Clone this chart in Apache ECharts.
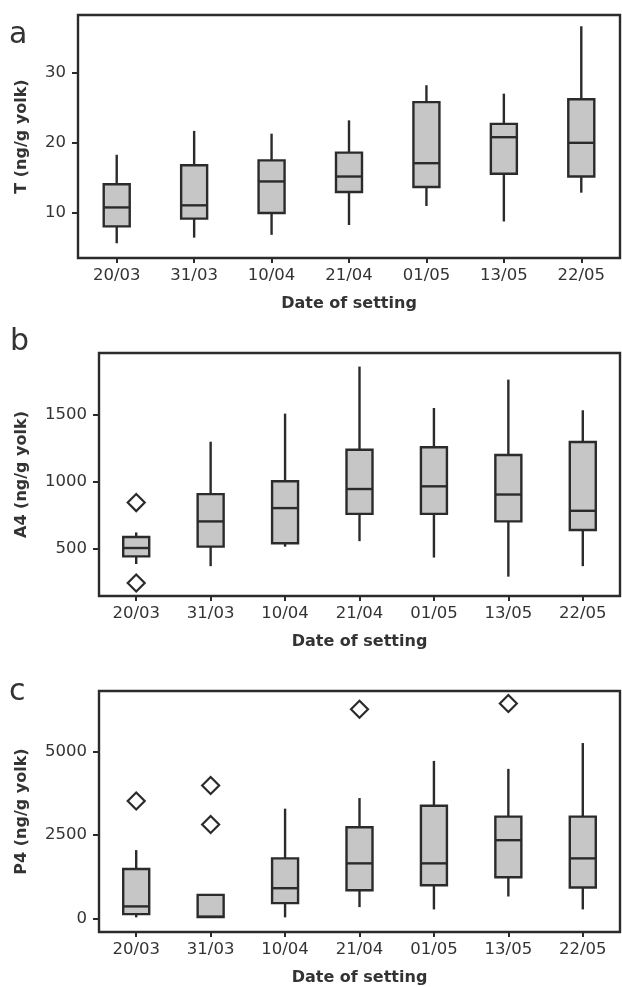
<!DOCTYPE html>
<html>
<head>
<meta charset="utf-8">
<script src="https://cdn.jsdelivr.net/npm/echarts@6/dist/echarts.min.js"></script>
<style>
  html, body { margin: 0; padding: 0; background: #fff; }
  #chart { width: 622px; height: 987px; }
</style>
</head>
<body>
<div id="chart"></div>
<script>
// dates of setting
var categories = ['20/03', '31/03', '10/04', '21/04', '01/05', '13/05', '22/05']

// [min, Q1, median, Q3, max] per date
var tBox = [
  [5.7, 8.1, 10.8, 14.1, 18.3],
  [6.5, 9.2, 11.1, 16.8, 21.7],
  [6.9, 10.0, 14.5, 17.5, 21.3],
  [8.3, 13.0, 15.2, 18.6, 23.2],
  [11.0, 13.7, 17.1, 25.8, 28.2],
  [8.8, 15.6, 20.8, 22.7, 27.0],
  [12.9, 15.2, 20.0, 26.2, 36.6]
]
var a4Box = [
  [386, 443, 505, 587, 621],
  [370, 515, 703, 906, 1296],
  [515, 540, 802, 1002, 1505],
  [556, 759, 944, 1236, 1855],
  [434, 759, 964, 1255, 1547],
  [292, 703, 903, 1197, 1758],
  [370, 639, 782, 1294, 1530]
]
var p4Box = [
  [50, 148, 377, 1492, 2055],
  [59, 59, 70, 721, 721],
  [50, 474, 919, 1808, 3290],
  [356, 860, 1660, 2737, 3606],
  [287, 1008, 1660, 3379, 4713],
  [672, 1245, 2351, 3053, 4476],
  [287, 939, 1808, 3053, 5246]
]

// outliers: [category index, value]
var a4Outliers = [[0, 843], [0, 245]]
var p4Outliers = [[0, 3518], [1, 3982], [1, 2816], [3, 6255], [5, 6423]]

// tick labels
var tTicks = [10, 20, 30]
var a4Ticks = [500, 1000, 1500]
var p4Ticks = [0, 2500, 5000]

var ink = '#2b2b2b'
var textColor = '#333'
var fontFamily = 'DejaVu Sans'

function renderBox (params, api) {
  var idx = api.value(0)
  var low = api.coord([idx, api.value(1)])
  var q1 = api.coord([idx, api.value(2)])
  var med = api.coord([idx, api.value(3)])
  var q3 = api.coord([idx, api.value(4)])
  var high = api.coord([idx, api.value(5)])
  var cx = low[0]
  var half = 13
  var line = { stroke: ink, lineWidth: 2.4 }
  return {
    type: 'group',
    children: [
      { type: 'line', shape: { x1: cx, y1: high[1], x2: cx, y2: q3[1] }, style: line },
      { type: 'line', shape: { x1: cx, y1: q1[1], x2: cx, y2: low[1] }, style: line },
      {
        type: 'rect',
        shape: { x: cx - half, y: q3[1], width: half * 2, height: q1[1] - q3[1] },
        style: { fill: '#c6c6c6', stroke: ink, lineWidth: 2.4 }
      },
      { type: 'line', shape: { x1: cx - half, y1: med[1], x2: cx + half, y2: med[1] }, style: line }
    ]
  }
}

function xAxisFor (gridIndex) {
  return {
    type: 'category',
    gridIndex: gridIndex,
    data: categories,
    name: 'Date of setting',
    nameLocation: 'middle',
    nameGap: 38,
    nameTextStyle: { fontFamily: fontFamily, fontWeight: 'bold', fontSize: 16, color: textColor },
    axisLine: { show: false, onZero: false },
    axisTick: { show: true, alignWithLabel: true, length: 5, lineStyle: { color: ink, width: 2 } },
    axisLabel: { fontFamily: fontFamily, fontSize: 16.5, color: textColor, margin: 9 },
    splitLine: { show: false }
  }
}

function yAxisFor (gridIndex, name, min, max, ticks, gap) {
  return {
    type: 'value',
    gridIndex: gridIndex,
    min: min,
    max: max,
    name: name,
    nameLocation: 'middle',
    nameRotate: 90,
    nameGap: gap,
    nameTextStyle: { fontFamily: fontFamily, fontWeight: 'bold', fontSize: 16, color: textColor },
    axisLine: { show: false, onZero: false },
    axisTick: { show: true, length: 6, customValues: ticks, lineStyle: { color: ink, width: 2 } },
    axisLabel: {
      fontFamily: fontFamily,
      fontSize: 16.5,
      color: textColor,
      margin: 12,
      customValues: ticks,
      formatter: function (v) { return String(v) }
    },
    splitLine: { show: false }
  }
}

function boxSeries (i, data) {
  return {
    type: 'custom',
    xAxisIndex: i,
    yAxisIndex: i,
    renderItem: renderBox,
    encode: { x: 0, y: [1, 2, 3, 4, 5] },
    data: data.map(function (b, k) { return [k].concat(b) }),
    z: 3
  }
}

function outlierSeries (i, data) {
  return {
    type: 'scatter',
    xAxisIndex: i,
    yAxisIndex: i,
    symbol: 'diamond',
    symbolSize: [17, 17],
    itemStyle: { color: '#fff', borderColor: ink, borderWidth: 2.2, opacity: 1 },
    data: data,
    z: 4
  }
}

var gridStyle = { show: true, borderColor: ink, borderWidth: 2.4, backgroundColor: 'transparent' }

var chart = echarts.init(document.getElementById('chart'))
chart.setOption({
  backgroundColor: '#fff',
  animation: false,
  grid: [
    Object.assign({ left: 78, right: 2, top: 15, height: 243 }, gridStyle),
    Object.assign({ left: 99, right: 2, top: 353, height: 243 }, gridStyle),
    Object.assign({ left: 99, right: 2, top: 691, height: 242 }, gridStyle)
  ],
  xAxis: [xAxisFor(0), xAxisFor(1), xAxisFor(2)],
  yAxis: [
    yAxisFor(0, 'T (ng/g yolk)', 3.6, 38.2, tTicks, 48),
    yAxisFor(1, 'A4 (ng/g yolk)', 148, 1956, a4Ticks, 69),
    yAxisFor(2, 'P4 (ng/g yolk)', -386, 6797, p4Ticks, 69)
  ],
  graphic: [
    { type: 'text', left: 9, top: 20, style: { text: 'a', fontFamily: fontFamily, fontSize: 30, fill: textColor } },
    { type: 'text', left: 10, top: 327, style: { text: 'b', fontFamily: fontFamily, fontSize: 30, fill: textColor } },
    { type: 'text', left: 9, top: 677, style: { text: 'c', fontFamily: fontFamily, fontSize: 30, fill: textColor } }
  ],
  series: [
    boxSeries(0, tBox),
    boxSeries(1, a4Box),
    outlierSeries(1, a4Outliers),
    boxSeries(2, p4Box),
    outlierSeries(2, p4Outliers)
  ]
})
</script>
</body>
</html>
